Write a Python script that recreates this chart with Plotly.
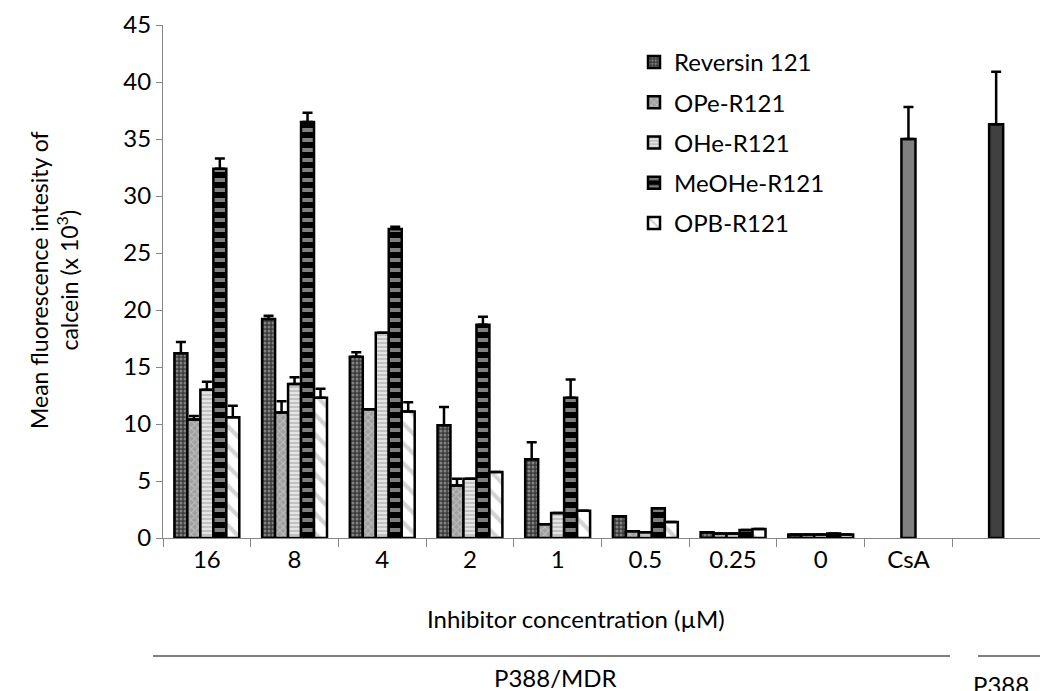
import plotly.graph_objects as go
import numpy as np

# Concentrations (µM) and controls on the x axis
categories = ["16", "8", "4", "2", "1", "0.5", "0.25", "0", "CsA", "P388"]
tick_labels = ["16", "8", "4", "2", "1", "0.5", "0.25", "0", "CsA", ""]

# Mean fluorescence intensity of calcein (x 10^3) for each inhibitor
reversin_121 = [16.2, 19.2, 15.9, 9.9, 6.9, 1.9, 0.5, 0.3]
reversin_121_err = [1.0, 0.3, 0.4, 1.6, 1.5, 0.0, 0.0, 0.0]
ope_r121 = [10.4, 11.0, 11.3, 4.6, 1.2, 0.6, 0.4, 0.3]
ope_r121_err = [0.3, 1.0, 0.0, 0.6, 0.0, 0.0, 0.0, 0.0]
ohe_r121 = [13.0, 13.5, 18.0, 5.2, 2.2, 0.5, 0.4, 0.3]
ohe_r121_err = [0.7, 0.6, 0.0, 0.0, 0.0, 0.0, 0.0, 0.0]
meohe_r121 = [32.4, 36.5, 27.1, 18.7, 12.3, 2.6, 0.7, 0.4]
meohe_r121_err = [0.9, 0.8, 0.2, 0.7, 1.6, 0.0, 0.0, 0.0]
opb_r121 = [10.6, 12.3, 11.1, 5.8, 2.4, 1.4, 0.8, 0.3]
opb_r121_err = [1.0, 0.8, 0.8, 0.0, 0.0, 0.0, 0.0, 0.0]

csa_value = [35.0]
csa_err = [2.8]
p388_value = [36.3]
p388_err = [4.6]

series = [
    ("Reversin 121", reversin_121, reversin_121_err,
     dict(shape=".", bgcolor="#3a3a3a", fgcolor="#c8c8c8", size=4, solidity=0.45)),
    ("OPe-R121", ope_r121, ope_r121_err,
     dict(shape="x", bgcolor="#a0a0a0", fgcolor="#e0e0e0", size=5, solidity=0.35)),
    ("OHe-R121", ohe_r121, ohe_r121_err,
     dict(shape="-", bgcolor="#e4e4e4", fgcolor="#a0a0a0", size=4, solidity=0.5)),
    ("MeOHe-R121", meohe_r121, meohe_r121_err,
     dict(shape="-", bgcolor="#000000", fgcolor="#ffffff", size=10, solidity=0.4)),
    ("OPB-R121", opb_r121, opb_r121_err,
     dict(shape="\\", bgcolor="#ffffff", fgcolor="#a8a8a8", size=14, solidity=0.3)),
]

FONT = "Lato"
FS = 24
x_index = np.arange(len(categories))
bar_w = 0.148

fig = go.Figure()

n = len(series)
for i, (name, vals, errs, pattern) in enumerate(series):
    fig.add_trace(go.Bar(
        x=x_index[:len(vals)],
        y=vals,
        name=name,
        legendgroup=name,
        width=bar_w,
        offset=(i - n / 2) * bar_w,
        marker=dict(color=pattern["bgcolor"], pattern=pattern,
                    line=dict(color="black", width=2.5)),
        error_y=dict(type="data", symmetric=False, array=errs,
                     arrayminus=[0] * len(errs), color="black",
                     thickness=2.5, width=5),
    ))

# Cyclosporin A control (P388/MDR) and parental P388 cells
fig.add_trace(go.Bar(
    x=[x_index[8]], y=csa_value, width=0.16, offset=-0.08,
    marker=dict(color="#808080", line=dict(color="black", width=2.5)),
    error_y=dict(type="data", symmetric=False, array=csa_err, arrayminus=[0],
                 color="black", thickness=2.5, width=5),
    showlegend=False,
))
fig.add_trace(go.Bar(
    x=[x_index[9]], y=p388_value, width=0.16, offset=-0.08,
    marker=dict(color="#404040", line=dict(color="black", width=2.5)),
    error_y=dict(type="data", symmetric=False, array=p388_err, arrayminus=[0],
                 color="black", thickness=2.5, width=5),
    showlegend=False,
))

axis_grey = "#868686"
fig.update_layout(
    width=1040, height=691,
    margin=dict(l=163, r=0, t=25, b=153),
    plot_bgcolor="white", paper_bgcolor="white",
    barmode="overlay",
    font=dict(family=FONT, size=FS, color="black"),
    showlegend=True,
    legend=dict(x=(634 - 163) / 877, y=(538 - 40) / 513, xanchor="left", yanchor="top",
                traceorder="grouped", tracegroupgap=6,
                font=dict(family=FONT, size=FS), bgcolor="rgba(0,0,0,0)"),
    xaxis=dict(
        range=[-0.5, 9.5], tickmode="array", tickvals=list(x_index),
        ticktext=tick_labels, ticks="", showgrid=False, zeroline=False,
        showline=True, linecolor=axis_grey, linewidth=1,
        tickfont=dict(family=FONT, size=FS),
        minor=dict(tickmode="linear", tick0=-0.5, dtick=1, ticks="outside",
                   ticklen=8, tickcolor=axis_grey, showgrid=False),
    ),
    yaxis=dict(
        range=[0, 45], tickmode="linear", tick0=0, dtick=5,
        ticks="outside", ticklen=6, tickcolor=axis_grey,
        showgrid=False, zeroline=False, showline=True,
        linecolor=axis_grey, linewidth=1,
        tickfont=dict(family=FONT, size=FS),
    ),
)

# Axis titles
fig.add_annotation(text="Inhibitor concentration (µM)", xref="paper", yref="paper",
                   x=(576 - 163) / 877, y=(538 - 618) / 513, showarrow=False,
                   xanchor="center", yanchor="middle", font=dict(size=FS))
fig.add_annotation(text="Mean fluorescence intesity of<br>calcein (x 10<sup>3</sup>)",
                   xref="paper", yref="paper", x=(54 - 163) / 877,
                   y=(538 - 280) / 513, textangle=-90,
                   showarrow=False, xanchor="center", yanchor="middle",
                   font=dict(size=23))

# Cell-line brackets under the axis
fig.add_shape(type="line", xref="paper", yref="paper",
              x0=(153 - 163) / 877, x1=(950 - 163) / 877,
              y0=(538 - 656) / 513, y1=(538 - 656) / 513,
              line=dict(color="black", width=1.2))
fig.add_shape(type="line", xref="paper", yref="paper",
              x0=(978 - 163) / 877, x1=1.0,
              y0=(538 - 656) / 513, y1=(538 - 656) / 513,
              line=dict(color="black", width=1.2))
fig.add_annotation(text="P388/MDR", xref="paper", yref="paper",
                   x=(555 - 163) / 877, y=(538 - 677) / 513, showarrow=False,
                   xanchor="center", yanchor="middle", font=dict(size=FS))
fig.add_annotation(text="P388", xref="paper", yref="paper",
                   x=(1001 - 163) / 877, y=(538 - 684) / 513, showarrow=False,
                   xanchor="center", yanchor="middle", font=dict(size=FS))

fig.write_html("out.html")
